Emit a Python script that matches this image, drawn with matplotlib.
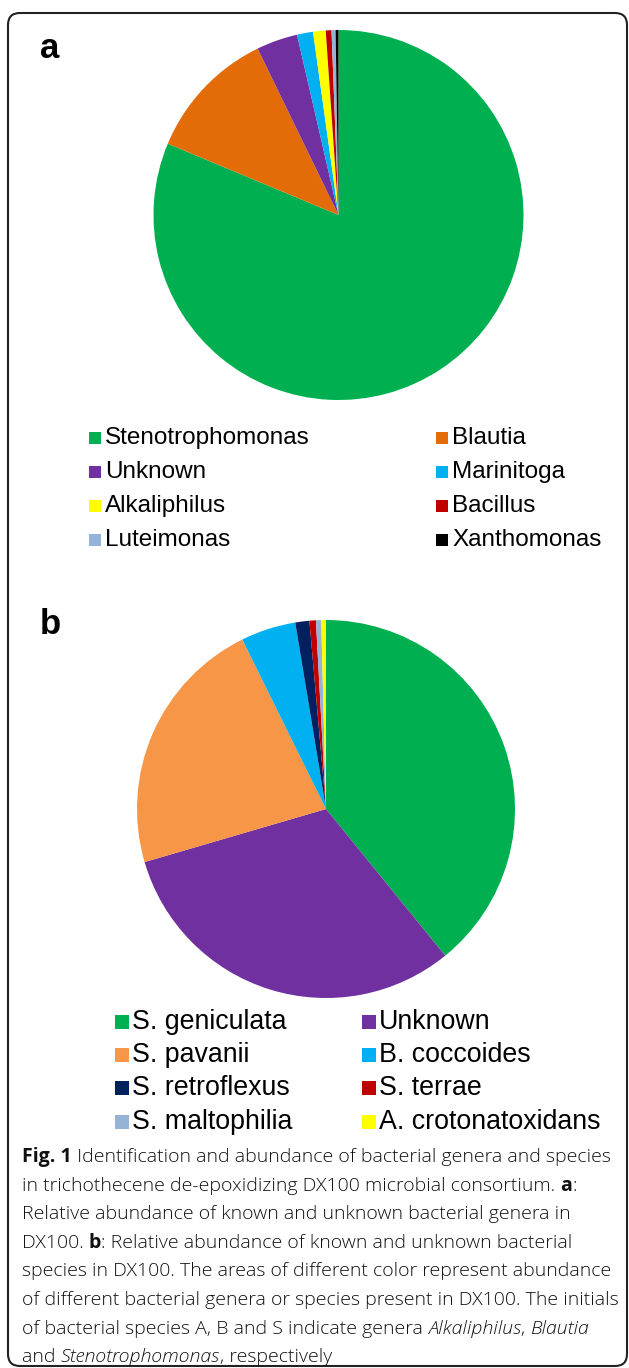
import matplotlib
matplotlib.use('Agg')
import matplotlib.pyplot as plt
from matplotlib.patches import FancyBboxPatch, Rectangle

# panel a: relative abundance of genera (%)
genera = ['Stenotrophomonas', 'Blautia', 'Unknown', 'Marinitoga',
          'Alkaliphilus', 'Bacillus', 'Luteimonas', 'Xanthomonas']
genera_pct = [81.3, 11.5, 3.6, 1.4, 1.1, 0.5, 0.35, 0.25]
genera_colors = ['#00B050', '#E36C09', '#7030A0', '#00B0F0',
                 '#FFFF00', '#C00000', '#95B3D7', '#000000']

# panel b: relative abundance of species (%)
species = ['S. geniculata', 'Unknown', 'S. pavanii', 'B. coccoides',
           'S. retroflexus', 'S. terrae', 'S. maltophilia', 'A. crotonatoxidans']
species_pct = [39.1, 31.3, 22.2, 4.7, 1.2, 0.55, 0.45, 0.4]
species_colors = ['#00B050', '#7030A0', '#F79646', '#00B0F0',
                  '#002060', '#C00000', '#95B3D7', '#FFFF00']

caption = [
    [("Fig. 1", 'bold'), (" Identification and abundance of bacterial genera and species", 'normal')],
    [("in trichothecene de-epoxidizing DX100 microbial consortium. ", 'normal'), ("a", 'bold'), (":", 'normal')],
    [("Relative abundance of known and unknown bacterial genera in", 'normal')],
    [("DX100. ", 'normal'), ("b", 'bold'), (": Relative abundance of known and unknown bacterial", 'normal')],
    [("species in DX100. The areas of different color represent abundance", 'normal')],
    [("of different bacterial genera or species present in DX100. The initials", 'normal')],
    [("of bacterial species A, B and S indicate genera ", 'normal'), ("Alkaliphilus", 'italic'),
     (", ", 'normal'), ("Blautia", 'italic')],
    [("and ", 'normal'), ("Stenotrophomonas", 'italic'), (", respectively", 'normal')],
]

W, H = 629, 1368
fig = plt.figure(figsize=(W / 100, H / 100), dpi=100)
ax = fig.add_axes([0, 0, 1, 1])


def Y(y):
    # pixel row from the top -> data y
    return H - y


# frame
ax.add_patch(FancyBboxPatch((8, Y(1366)), 619, 1353,
                            boxstyle="round,pad=0,rounding_size=12",
                            fc='white', ec='#222222', lw=1.5, zorder=0))

# pies
ax.pie(genera_pct, colors=genera_colors, startangle=90, counterclock=False,
       center=(338.5, Y(215)), radius=185, wedgeprops=dict(linewidth=0))
ax.pie(species_pct, colors=species_colors, startangle=90, counterclock=False,
       center=(326, Y(809)), radius=189, wedgeprops=dict(linewidth=0))

ax.text(40, Y(49), 'a', fontsize=25, fontweight='bold', family='Liberation Sans', va='center')
ax.text(40, Y(625), 'b', fontsize=25, fontweight='bold', family='Liberation Sans', va='center')


def legend(labels, colors, mx, tx, rows, size, fs):
    for i, (lab, col) in enumerate(zip(labels, colors)):
        r, c = i // 2, i % 2
        yc = rows[r]
        ax.add_patch(Rectangle((mx[c], Y(yc + size / 2)), size, size, fc=col, ec='none'))
        ax.text(tx[c], Y(yc), lab, fontsize=fs, family='Liberation Sans',
                va='center', ha='left')


legend(genera, genera_colors, [89, 436], [105, 452], [438, 472, 506, 540], 12, 17.5)
legend(species, species_colors, [115, 362], [132, 379], [1022, 1055, 1088, 1122], 14, 19.3)

# caption with mixed styles
renderer = fig.canvas.get_renderer()
for i, line in enumerate(caption):
    x = 22
    y = Y(1157 + 28.6 * i)
    for txt, style in line:
        kw = dict(fontsize=14.0, family='Open Sans', va='center', ha='left', color='#111111')
        if style == 'bold':
            kw['fontweight'] = 'bold'
        else:
            kw['fontweight'] = 'light'
        if style == 'italic':
            kw['fontstyle'] = 'italic'
        t = ax.text(x, y, txt, **kw)
        x += t.get_window_extent(renderer).width

ax.set_xlim(0, W)
ax.set_ylim(0, H)
ax.set_aspect('auto')
ax.axis('off')

fig.savefig('out.png', dpi=100)
